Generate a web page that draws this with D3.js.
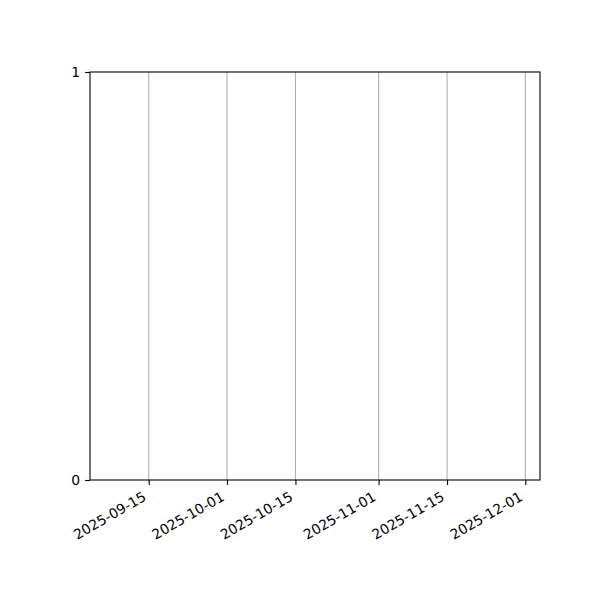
<!DOCTYPE html>
<html>
<head>
<meta charset="utf-8">
<script src="https://cdn.jsdelivr.net/npm/d3@7"></script>
<style>
  body { margin: 0; background: #fff; }
  text { font-family: "DejaVu Sans", sans-serif; }
</style>
</head>
<body>
<div id="chart-area"></div>
<script>
// empty date chart: only axes, ticks and x grid
var xDomain = ['2025-09-03', '2025-12-04'];
var xTickDates = ['2025-09-15', '2025-10-01', '2025-10-15', '2025-11-01', '2025-11-15', '2025-12-01'];
var yDomain = [0, 1];
var yTickValues = [0, 1];

var margin = {top: 72, left: 90, right: 60, bottom: 120};
var width = 600 - margin.left - margin.right;
var height = 600 - margin.top - margin.bottom;
var parse = d3.utcParse('%Y-%m-%d');
var fmt = d3.utcFormat('%Y-%m-%d');

var svg = d3.select('#chart-area')
  .append('svg')
    .attr('width', 600)
    .attr('height', 600)
  .append('g')
    .attr('transform', 'translate(' + margin.left + ',' + margin.top + ')');

var x = d3.scaleUtc()
  .domain(xDomain.map(parse))
  .range([0, width]);
var y = d3.scaleLinear()
  .domain(yDomain)
  .range([height, 0]);

// vertical grid
svg.append('g')
  .selectAll('line')
  .data(xTickDates.map(parse))
  .enter().append('line')
    .attr('x1', d => x(d))
    .attr('x2', d => x(d))
    .attr('y1', 0)
    .attr('y2', height)
    .attr('stroke', '#b0b0b0')
    .attr('stroke-width', 1.1);

// X axis
var xAxisCall = d3.axisBottom(x)
  .tickValues(xTickDates.map(parse))
  .tickFormat(fmt)
  .tickSize(4.9)
  .tickPadding(4.9);
var xAxis = svg.append('g')
  .attr('transform', 'translate(0,' + height + ')')
  .call(xAxisCall);
xAxis.select('.domain').remove();
xAxis.selectAll('line').attr('stroke', '#000').attr('stroke-width', 1.1);
xAxis.selectAll('text')
  .attr('font-size', '13.9px')
  .attr('fill', '#000')
  .attr('text-anchor', 'end')
  .attr('x', 0)
  .attr('y', 0)
  .attr('dy', '0.71em')
  .attr('transform', 'translate(-7,11) rotate(-30)');

// Y axis
var yAxisCall = d3.axisLeft(y)
  .tickValues(yTickValues)
  .tickFormat(d3.format('d'))
  .tickSize(4.9)
  .tickPadding(4.9);
var yAxis = svg.append('g').call(yAxisCall);
yAxis.select('.domain').remove();
yAxis.selectAll('line').attr('stroke', '#000').attr('stroke-width', 1.1);
yAxis.selectAll('text').attr('font-size', '13.9px').attr('fill', '#000');

// frame
svg.append('rect')
  .attr('width', width)
  .attr('height', height)
  .attr('fill', 'none')
  .attr('stroke', '#000')
  .attr('stroke-width', 1.1);
</script>
</body>
</html>
